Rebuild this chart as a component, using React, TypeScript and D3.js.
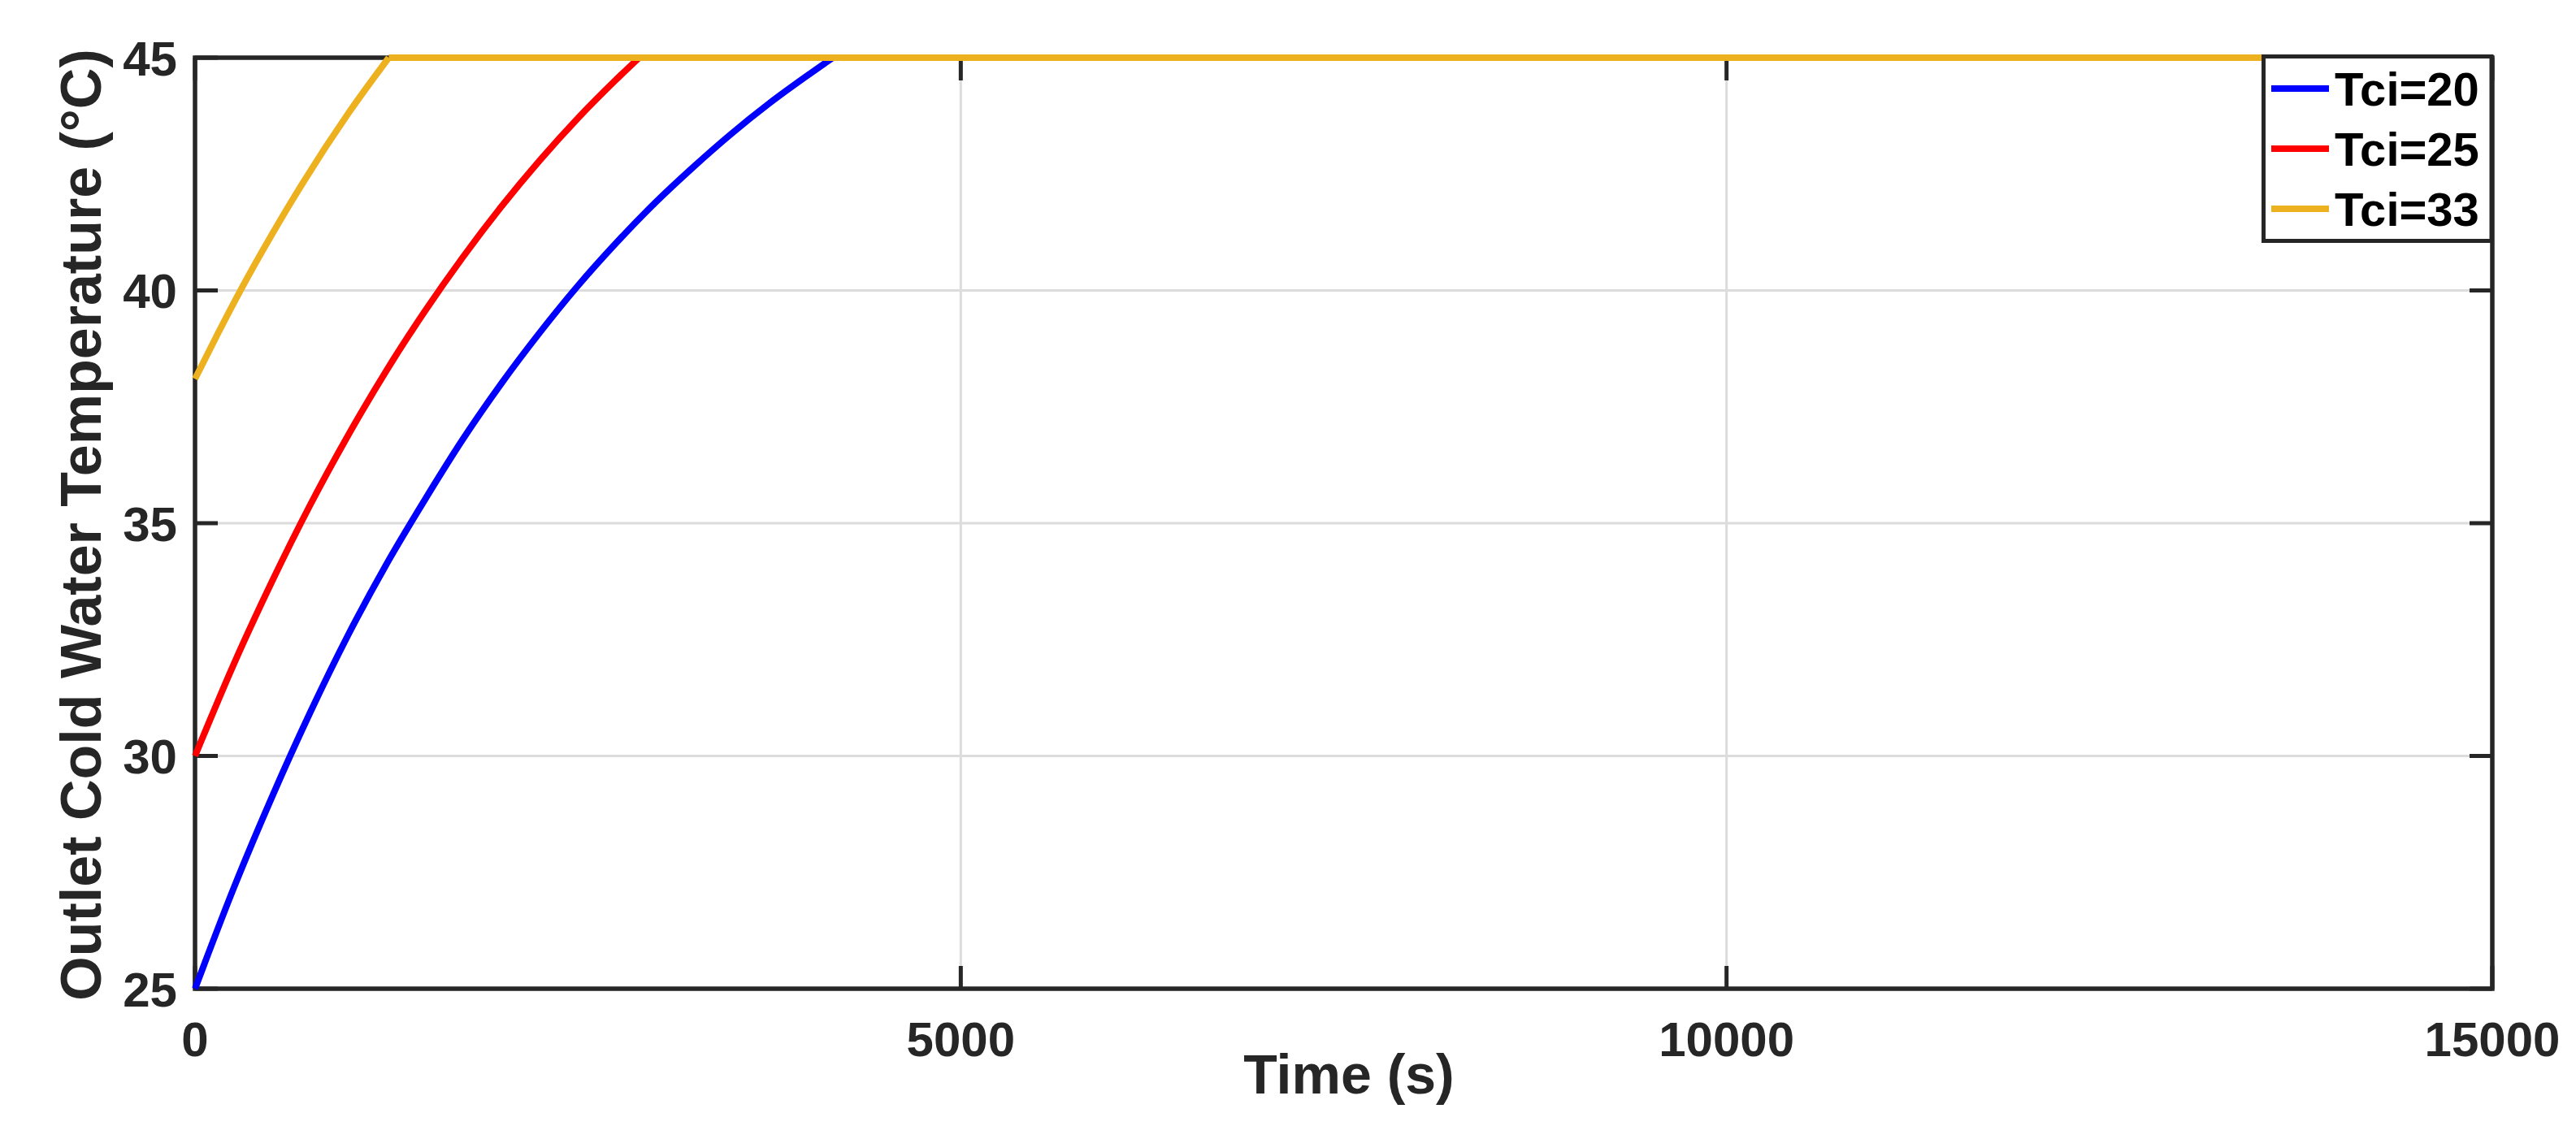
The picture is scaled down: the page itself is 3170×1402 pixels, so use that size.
import React from "react";
import * as d3 from "d3";

// ---- data ----
const xTicks = [0, 5000, 10000, 15000];
const yTicks = [25, 30, 35, 40, 45];
const seriesNames = ["Tci=20", "Tci=25", "Tci=33"];
const seriesColors = ["#0000FF", "#FF0000", "#EDB120"];

const timeTci20 = [0, 250, 500, 750, 1000, 1250, 1500, 1750, 2000, 2250, 2500, 2750, 3000, 3250, 3500, 3750, 4000, 4165, 15000];
const tempTci20 = [25, 27.14, 29.1, 30.92, 32.6, 34.12, 35.5, 36.81, 38.0, 39.09, 40.1, 41.02, 41.87, 42.64, 43.36, 44.02, 44.62, 45, 45];

const timeTci25 = [0, 250, 500, 750, 1000, 1250, 1500, 1750, 2000, 2250, 2500, 2750, 2900, 15000];
const tempTci25 = [30, 31.95, 33.73, 35.38, 36.89, 38.28, 39.55, 40.72, 41.8, 42.79, 43.7, 44.53, 45, 45];

const timeTci33 = [0, 150, 300, 500, 700, 1000, 1265, 15000];
const tempTci33 = [38.1, 39.08, 40.02, 41.19, 42.29, 43.8, 45, 45];

const seriesTimes = [timeTci20, timeTci25, timeTci33];
const seriesTemps = [tempTci20, tempTci25, tempTci33];

// ---- layout ----
const W = 3170;
const H = 1402;
const L = 240;
const R = 3067;
const T = 71;
const B = 1217;
const FONT = "'Liberation Sans', Arial, Helvetica, sans-serif";
const AX = "#262626";

export default function App() {
  const x = d3.scaleLinear().domain([0, 15000]).range([L, R]);
  const y = d3.scaleLinear().domain([25, 45]).range([B, T]);
  const tick = 28;

  const rising = d3
    .line<[number, number]>()
    .x((d) => x(d[0]))
    .y((d) => y(d[1]))
    .curve(d3.curveMonotoneX);
  const flat = d3
    .line<[number, number]>()
    .x((d) => x(d[0]))
    .y((d) => y(d[1]));

  const paths = seriesTimes.map((ts, i) => {
    const pts: [number, number][] = ts.map((t, j) => [t, seriesTemps[i][j]]);
    const k = pts.findIndex((p) => p[1] >= 45);
    return {
      rise: rising(pts.slice(0, k + 1)) || "",
      flat: flat(pts.slice(k)) || "",
    };
  });

  const legX = 2785.5;
  const legY = 69.5;
  const legW = 280.5;
  const legH = 227;
  const rowY = (i: number) => 109 + i * 74;

  return (
    <svg
      width={W}
      height={H}
      style={{ position: "absolute", left: 0, top: 0, background: "#fff" }}
    >
      <rect x={0} y={0} width={W} height={H} fill="#fff" />
      {/* grid */}
      {xTicks
        .filter((t) => t > 0 && t < 15000)
        .map((t) => (
          <line key={"gx" + t} x1={x(t)} x2={x(t)} y1={T} y2={B} stroke="#dcdcdc" strokeWidth={3} />
        ))}
      {yTicks
        .filter((t) => t > 25 && t < 45)
        .map((t) => (
          <line key={"gy" + t} x1={L} x2={R} y1={y(t)} y2={y(t)} stroke="#dcdcdc" strokeWidth={3} />
        ))}
      {/* ticks */}
      {xTicks.map((t) => (
        <g key={"tx" + t}>
          <line x1={x(t)} x2={x(t)} y1={B} y2={B - tick} stroke={AX} strokeWidth={5} />
          <line x1={x(t)} x2={x(t)} y1={T} y2={T + tick} stroke={AX} strokeWidth={5} />
          <text
            x={x(t)}
            y={1300}
            textAnchor="middle"
            fontFamily={FONT}
            fontWeight="bold"
            fontSize={60}
            fill={AX}
          >
            {t}
          </text>
        </g>
      ))}
      {yTicks.map((t) => (
        <g key={"ty" + t}>
          <line x1={L} x2={L + tick} y1={y(t)} y2={y(t)} stroke={AX} strokeWidth={5} />
          <line x1={R} x2={R - tick} y1={y(t)} y2={y(t)} stroke={AX} strokeWidth={5} />
          <text
            x={218}
            y={y(t)}
            dy="0.36em"
            textAnchor="end"
            fontFamily={FONT}
            fontWeight="bold"
            fontSize={60}
            fill={AX}
          >
            {t}
          </text>
        </g>
      ))}
      {/* box */}
      <rect x={L} y={T} width={R - L} height={B - T} fill="none" stroke={AX} strokeWidth={5.5} />
      {/* series */}
      {paths.map((p, i) => (
        <g key={"s" + i}>
          <path d={p.rise} fill="none" stroke={seriesColors[i]} strokeWidth={8} strokeLinejoin="round" />
          <path d={p.flat} fill="none" stroke={seriesColors[i]} strokeWidth={8} strokeLinejoin="round" />
        </g>
      ))}
      {/* axis labels */}
      <text
        x={1660}
        y={1346}
        textAnchor="middle"
        fontFamily={FONT}
        fontWeight="bold"
        fontSize={68}
        fill={AX}
      >
        Time (s)
      </text>
      <text
        transform={`translate(124,646) rotate(-90)`}
        textAnchor="middle"
        fontFamily={FONT}
        fontWeight="bold"
        fontSize={70}
        fill={AX}
      >
        Outlet Cold Water Temperature (°C)
      </text>
      {/* legend */}
      <rect x={legX} y={legY} width={legW} height={legH} fill="#fff" stroke={AX} strokeWidth={5} />
      {seriesNames.map((n, i) => (
        <g key={"l" + i}>
          <line x1={2795} x2={2866} y1={rowY(i)} y2={rowY(i)} stroke={seriesColors[i]} strokeWidth={8} />
          <text
            x={2873}
            y={rowY(i)}
            dy="0.36em"
            fontFamily={FONT}
            fontWeight="bold"
            fontSize={58}
            fill="#000"
          >
            {n}
          </text>
        </g>
      ))}
    </svg>
  );
}
